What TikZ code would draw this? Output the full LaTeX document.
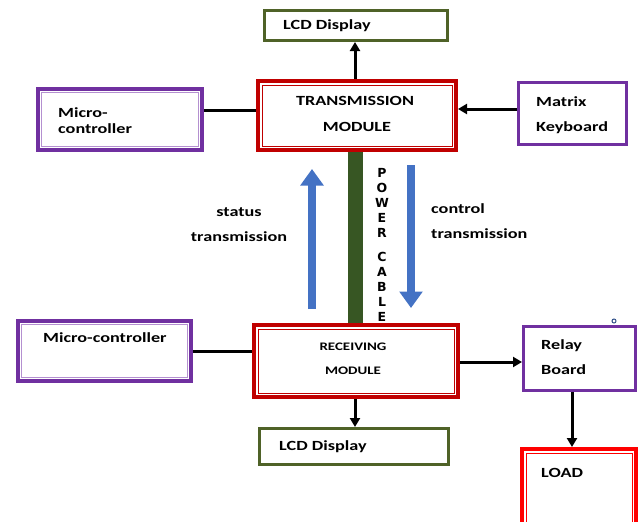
\documentclass[tikz,border=0pt]{standalone}
\usepackage{fontspec}
\usetikzlibrary{arrows.meta}
\newfontfamily\calib[FakeStretch=1.3]{Carlito}
\newfontfamily\heavy{DejaVu Sans}
\definecolor{dred}{HTML}{C00000}
\definecolor{purp}{HTML}{7030A0}
\definecolor{lpurp}{HTML}{B490D0}
\definecolor{lcdg}{HTML}{4F6228}
\definecolor{cablec}{HTML}{375623}
\definecolor{bluec}{HTML}{4472C4}
\definecolor{loadr}{HTML}{FF0000}
\begin{document}
\begin{tikzpicture}[x=1pt,y=-1pt,
  txt/.style={font=\calib\bfseries\fontsize{14}{16}\selectfont, inner sep=0pt, text height=10pt, text depth=2pt},
  txts/.style={font=\calib\bfseries\fontsize{11.5}{14}\selectfont, inner sep=0pt, text height=8pt, text depth=1pt},
  redbox/.style={draw=dred, line width=4pt, fill=white, inner sep=0pt},
  loadbox/.style={draw=loadr, line width=4pt, fill=white, inner sep=0pt},
  purpdbl/.style={draw=purp, line width=4pt, fill=white, inner sep=0pt},
  purpbox/.style={draw=purp, line width=3pt, fill=white, inner sep=0pt},
  lcdbox/.style={draw=lcdg, line width=3pt, fill=white, inner sep=0pt},
  conn/.style={line width=3pt, black},
  arr/.style={conn, -{Triangle[width=10pt,length=9pt]}},
  bigarr/.style={line width=8.5pt, bluec, -{Triangle[width=22.5pt,length=16.5pt]}},
  cable/.style={line width=15pt, cablec}
]
\clip (0,0) rectangle (640,522);
\fill[white] (0,0) rectangle (640,522);

% boxes
\node[lcdbox, minimum width=183pt, minimum height=30pt] (lcd1) at (356,25.5) {};
\node[redbox, minimum width=198pt, minimum height=69pt] (tx) at (357,115.5) {};
\node[purpdbl, minimum width=164pt, minimum height=61pt] (mc1) at (120,119.5) {};
\node[purpbox, minimum width=108pt, minimum height=62pt] (kb) at (572.5,113.5) {};
\node[redbox, minimum width=204pt, minimum height=72pt] (rx) at (356,361) {};
\node[purpdbl, minimum width=173pt, minimum height=60pt] (mc2) at (104.5,351) {};
\node[lcdbox, minimum width=189pt, minimum height=36pt] (lcd2) at (354,446.5) {};
\node[purpbox, minimum width=112pt, minimum height=64pt] (relay) at (579.5,358.5) {};
\node[loadbox, minimum width=114pt, minimum height=92pt] (load) at (579,495) {};

% inner frames
\draw[dred, line width=1pt] ([shift={(6,6)}]tx.north west) rectangle ([shift={(-6,-6)}]tx.south east);
\draw[dred, line width=1pt] ([shift={(6,6)}]rx.north west) rectangle ([shift={(-6,-6)}]rx.south east);
\draw[loadr, line width=1pt] ([shift={(6,6)}]load.north west) rectangle ([shift={(-6,-6)}]load.south east);
\draw[lpurp, line width=1.2pt] ([shift={(5.5,5.5)}]mc1.north west) rectangle ([shift={(-5.5,-5.5)}]mc1.south east);
\draw[lpurp, line width=1.2pt] ([shift={(5.5,5.5)}]mc2.north west) rectangle ([shift={(-5.5,-5.5)}]mc2.south east);

% power cable
\draw[cable] (tx.south -| 355,0) -- (rx.north -| 355,0);
\node[font=\heavy\bfseries\fontsize{12.5}{15}\selectfont, align=center, inner sep=0pt] (pc) at (382,245) {P\\O\\W\\E\\R\\[9pt]C\\A\\B\\L\\E};

% connectors
\draw[arr] (tx.north -| 355,0) -- (lcd1.south -| 355,0);
\draw[conn] (mc1.east |- 0,110) -- (tx.west |- 0,110);
\draw[arr] (kb.west |- 0,109) -- (tx.east |- 0,109);
\draw[conn] (mc2.east) -- (mc2.east -| rx.west);
\draw[arr] (rx.south -| 355,0) -- (lcd2.north -| 355,0);
\draw[arr] (rx.east |- 0,362) -- (relay.west |- 0,362);
\draw[arr] (relay.south -| 572,0) -- (load.north -| 572,0);

% blue arrows
\coordinate (su0) at (312,309);
\coordinate (su1) at (312,169);
\coordinate (cd0) at (411,165);
\coordinate (cd1) at (411,308);
\draw[bigarr] (su0) -- (su1);
\draw[bigarr] (cd0) -- (cd1);

% texts
\node[txt, anchor=west] (t1) at (283,25) {LCD Display};
\node[txt] (t2) at (355,101) {TRANSMISSION};
\node[txt] (t3) at (357,127) {MODULE};
\node[txt, anchor=west] (t4) at (58,113) {Micro-};
\node[txt, anchor=west] (t5) at (58,129) {controller};
\node[txt, anchor=west] (t6) at (536,102) {Matrix};
\node[txt, anchor=west] (t7) at (536,127) {Keyboard};
\node[txt] (t8) at (239,212) {status};
\node[txt] (t9) at (239,237) {transmission};
\node[txt, anchor=west] (t10) at (431,209) {control};
\node[txt, anchor=west] (t11) at (431,234) {transmission};
\node[txt, anchor=west] (t12) at (43,338) {Micro-controller};
\node[txts] (t13) at (353,347) {RECEIVING};
\node[txts] (t14) at (353,371) {MODULE};
\node[txt, anchor=west] (t15) at (279,446) {LCD Display};
\node[txt, anchor=west] (t16) at (541,345) {Relay};
\node[txt, anchor=west] (t17) at (541,370) {Board};
\node[txt, anchor=west] (t18) at (541,473) {LOAD};
\node[draw=bluec!70!black, line width=1pt, circle, inner sep=0pt, minimum size=4pt] (dot) at (614,321) {};
\end{tikzpicture}
\end{document}
